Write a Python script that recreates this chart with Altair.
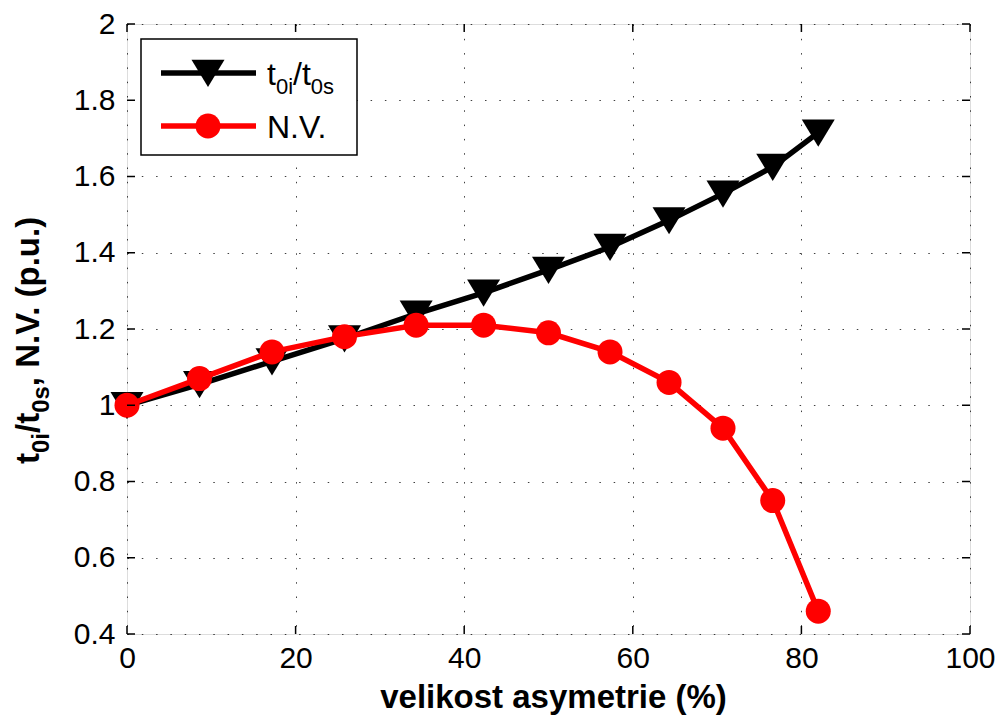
import altair as alt
import pandas as pd

# ---------------- data ----------------
asym = [0, 8.6, 17.2, 25.8, 34.3, 42.3, 50.0, 57.3, 64.3, 70.7, 76.6, 82.0]
t_ratio = [1.00, 1.055, 1.115, 1.175, 1.24, 1.295, 1.355, 1.415, 1.485, 1.555, 1.625, 1.715]
nv = [1.00, 1.07, 1.14, 1.18, 1.21, 1.21, 1.19, 1.14, 1.06, 0.94, 0.75, 0.46]
x_ticks = [0, 20, 40, 60, 80, 100]
y_ticks = [0.4, 0.6, 0.8, 1.0, 1.2, 1.4, 1.6, 1.8, 2.0]
x_title = "velikost asymetrie (%)"
# rich-text pieces: (text, is_subscript)
ratio_label = [("t", False), ("0i", True), ("/t", False), ("0s", True)]
nv_label = [("N.V.", False)]
y_title = ratio_label + [(", N.V. (p.u.)", False)]

# ---------------- style ----------------
W, H = 843, 610
FONT = "Liberation Sans"
TRI = "M-1,-0.8L1,-0.8L0,0.85Z"
LW = 5.5
TRI_SIZE = 1089
CIRC_SIZE = 625

REG = {"t": .278, "0": .556, "i": .222, "/": .278, "s": .5, "N": .722, ".": .278, "V": .667}
BOLD = {"t": .333, "0": .556, "i": .278, "/": .278, "s": .556, ",": .278, " ": .278,
        "N": .722, ".": .278, "V": .667, "(": .333, "p": .611, "u": .611, ")": .333}

xs = alt.Scale(domain=[0, 100], nice=False, zero=False)
ys = alt.Scale(domain=[0.4, 2.0], nice=False, zero=False)

df = pd.DataFrame({"x": asym, "ratio": t_ratio, "nv": nv})
one = pd.DataFrame({"a": [0]})

grid_kw = dict(grid=True, gridDash=[1.5, 12.8], gridColor="#000", gridOpacity=0.75, gridWidth=1,
               ticks=False, tickSize=0, domain=False, labelFont=FONT, labelFontSize=30,
               labelColor="black", labelFlush=False, labelOverlap=False, title=None)
x_axis = alt.Axis(values=x_ticks, labelBaseline="alphabetic", labelPadding=33, format="d", **grid_kw)
y_axis = alt.Axis(values=y_ticks, labelPadding=12, format=".1~f", **grid_kw)


def X(f):
    return alt.X(f, scale=xs, axis=x_axis)


def Y(f):
    return alt.Y(f, scale=ys, axis=y_axis)


base = alt.Chart(df)
black_line = base.mark_line(color="black", strokeWidth=LW).encode(x=X("x:Q"), y=Y("ratio:Q"))
black_pts = base.mark_point(shape=TRI, filled=True, color="black", size=TRI_SIZE, opacity=1).encode(
    x=X("x:Q"), y=Y("ratio:Q"))
red_line = base.mark_line(color="#ff0000", strokeWidth=LW).encode(x=X("x:Q"), y=Y("nv:Q"))
red_pts = base.mark_point(shape="circle", filled=True, color="#ff0000", size=CIRC_SIZE, opacity=1).encode(
    x=X("x:Q"), y=Y("nv:Q"))

# inner ticks (MATLAB style box)
TL = 8
xt = alt.Chart(pd.DataFrame({"v": x_ticks}))
yt = alt.Chart(pd.DataFrame({"v": y_ticks}))
tick_kw = dict(color="black", strokeWidth=1.5)
ticks = [
    xt.mark_rule(**tick_kw).encode(x=X("v:Q"), y=alt.value(H), y2=alt.value(H - TL)),
    xt.mark_rule(**tick_kw).encode(x=X("v:Q"), y=alt.value(0), y2=alt.value(TL)),
    yt.mark_rule(**tick_kw).encode(y=Y("v:Q"), x=alt.value(0), x2=alt.value(TL)),
    yt.mark_rule(**tick_kw).encode(y=Y("v:Q"), x=alt.value(W - TL), x2=alt.value(W)),
]


def rich_text(pieces, start, base_line, main, sub, shift, widths, bold, vertical):
    layers = []
    pos = start
    for txt, is_sub in pieces:
        fs = sub if is_sub else main
        w = sum(widths.get(c, 0.556) for c in txt) * fs
        kw = dict(text=txt, font=FONT, fontSize=fs, color="black", align="left", baseline="alphabetic")
        if bold:
            kw["fontWeight"] = "bold"
        off = shift if is_sub else 0
        if vertical:
            kw["angle"] = 270
            layers.append(alt.Chart(one).mark_text(**kw).encode(x=alt.value(base_line + off), y=alt.value(pos)))
            pos -= w
        else:
            layers.append(alt.Chart(one).mark_text(**kw).encode(x=alt.value(pos), y=alt.value(base_line + off)))
            pos += w
    return layers


# legend
LX0, LX1, LY0, LY1 = 14, 230, 15, 131
R1, R2 = 49, 102
legend = [
    alt.Chart(one).mark_rect(fill="white", stroke="black", strokeWidth=1.5).encode(
        x=alt.value(LX0), x2=alt.value(LX1), y=alt.value(LY0), y2=alt.value(LY1)),
    alt.Chart(one).mark_rule(color="black", strokeWidth=LW).encode(x=alt.value(34), x2=alt.value(129), y=alt.value(R1)),
    alt.Chart(one).mark_point(shape=TRI, filled=True, color="black", size=TRI_SIZE, opacity=1).encode(
        x=alt.value(81), y=alt.value(R1)),
    alt.Chart(one).mark_rule(color="#ff0000", strokeWidth=LW).encode(x=alt.value(34), x2=alt.value(129), y=alt.value(R2)),
    alt.Chart(one).mark_point(shape="circle", filled=True, color="#ff0000", size=CIRC_SIZE, opacity=1).encode(
        x=alt.value(81), y=alt.value(R2)),
]
legend += rich_text(ratio_label, 140, R1 + 12, 32, 22, 9, REG, False, False)
legend += rich_text(nv_label, 140, R2 + 12, 32, 22, 9, REG, False, False)

titles = rich_text(y_title, 440, -88.5, 33, 24, 10, BOLD, True, True)
titles.append(alt.Chart(one).mark_text(text=x_title, font=FONT, fontSize=33, fontWeight="bold",
                                       color="black", align="center", baseline="alphabetic").encode(
    x=alt.value(W / 2 + 5), y=alt.value(684)))

chart = alt.layer(black_line, black_pts, red_line, red_pts, *ticks, *legend, *titles).properties(
    width=W, height=H,
    autosize=alt.AutoSizeParams(type="none"),
    padding={"left": 119, "top": 16, "right": 25, "bottom": 86},
).configure_view(stroke="black", strokeWidth=1.6).configure(background="white")

chart.save("out.html", embed_options={"renderer": "svg", "actions": False})
